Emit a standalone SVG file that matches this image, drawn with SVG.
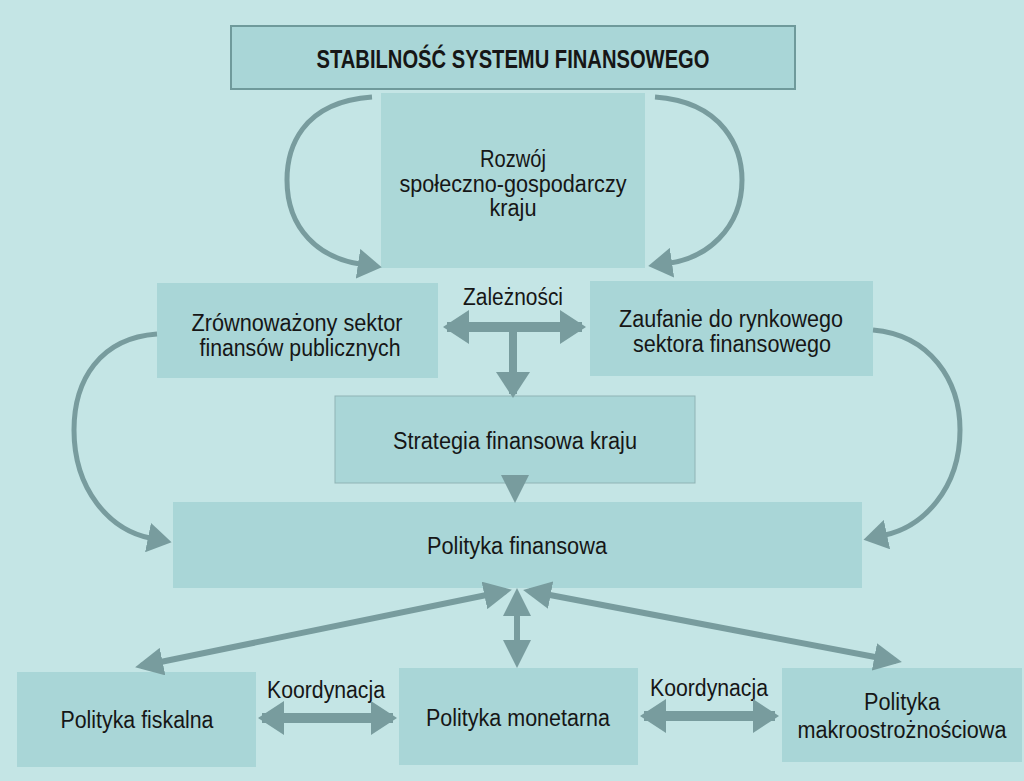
<svg xmlns="http://www.w3.org/2000/svg" width="1024" height="781" viewBox="0 0 1024 781">
<style>
.bg{fill:#c4e5e5}
.box{fill:#a9d6d7}
.bord{fill:#a9d6d7;stroke:#6f9a9b;stroke-width:2}
text{font-family:"Liberation Sans Narrow","Liberation Sans",Arial,sans-serif;font-size:23px;fill:#161616;text-anchor:middle}
.title{font-size:26px;font-weight:bold}
.c{fill:none;stroke:#789c9e;stroke-width:5}
.s{fill:none;stroke:#789c9e;stroke-width:6}
.t{fill:none;stroke:#789c9e;stroke-width:10}
</style>
<defs>
<marker id="ah" markerUnits="userSpaceOnUse" markerWidth="28" markerHeight="28" viewBox="0 0 28 28" refX="22" refY="14" orient="auto-start-reverse"><path d="M0,0 L28,14 L0,28 z" fill="#789c9e"/></marker>
<marker id="ahc" markerUnits="userSpaceOnUse" markerWidth="24" markerHeight="30" viewBox="0 0 24 30" refX="2" refY="15" orient="auto"><path d="M0,0 L24,15 L0,30 z" fill="#789c9e"/></marker>
<marker id="ahb" markerUnits="userSpaceOnUse" markerWidth="26" markerHeight="34" viewBox="0 0 26 34" refX="22" refY="17" orient="auto-start-reverse"><path d="M0,0 L26,17 L0,34 z" fill="#789c9e"/></marker>
</defs>
<rect class="bg" x="0" y="0" width="1024" height="781"/>

<g id="title"><rect class="bord" x="231" y="26" width="564" height="63"/><text class="title" x="513" y="68" textLength="393" lengthAdjust="spacingAndGlyphs">STABILNOŚĆ SYSTEMU FINANSOWEGO</text></g>
<g id="rozwoj"><rect class="box" x="381" y="93" width="264" height="175" style="fill:#acd8d8"/><text x="513" y="167" textLength="66" lengthAdjust="spacingAndGlyphs">Rozwój</text><text x="513" y="192" textLength="227" lengthAdjust="spacingAndGlyphs">społeczno-gospodarczy</text><text x="513" y="216" textLength="47" lengthAdjust="spacingAndGlyphs">kraju</text></g>
<g id="zrownowazony"><rect class="box" x="157" y="283" width="281" height="95"/><text x="297" y="331" textLength="211" lengthAdjust="spacingAndGlyphs">Zrównoważony sektor</text><text x="300" y="356" textLength="201" lengthAdjust="spacingAndGlyphs">finansów publicznych</text></g>
<g id="zaufanie"><rect class="box" x="590" y="281" width="283" height="95"/><text x="731" y="327" textLength="224" lengthAdjust="spacingAndGlyphs">Zaufanie do rynkowego</text><text x="732" y="352" textLength="198" lengthAdjust="spacingAndGlyphs">sektora finansowego</text></g>
<g id="strategia"><rect class="box" x="335" y="396" width="360" height="87" style="stroke:#8fb4b5;stroke-width:1"/><text x="515" y="449" textLength="244" lengthAdjust="spacingAndGlyphs">Strategia finansowa kraju</text></g>
<g id="polityka-finansowa"><rect class="box" x="173" y="502" width="689" height="86"/><text x="517" y="554" textLength="180" lengthAdjust="spacingAndGlyphs">Polityka finansowa</text></g>
<g id="fiskalna"><rect class="box" x="17" y="672" width="239" height="95"/><text x="137" y="728" textLength="153" lengthAdjust="spacingAndGlyphs">Polityka fiskalna</text></g>
<g id="monetarna"><rect class="box" x="399" y="668" width="239" height="97"/><text x="518" y="726" textLength="184" lengthAdjust="spacingAndGlyphs">Polityka monetarna</text></g>
<g id="makro"><rect class="box" x="782" y="668" width="240" height="94"/><text x="902" y="710" textLength="76" lengthAdjust="spacingAndGlyphs">Polityka</text><text x="902" y="738" textLength="209" lengthAdjust="spacingAndGlyphs">makroostrożnościowa</text></g>

<g id="connectors">
<path class="c" marker-end="url(#ahc)" d="M372,97 C300,102 287,150 287,180 C287,230 320,258 360,264"/>
<path class="c" marker-end="url(#ahc)" d="M655,97 C725,102 742,150 742,180 C742,230 705,258 670,263"/>
<path class="c" marker-end="url(#ahc)" d="M157,334 C100,338 74,380 74,430 C74,490 110,530 150,538"/>
<path class="c" marker-end="url(#ahc)" d="M873,330 C930,335 960,380 960,430 C960,490 922,527 885,535"/>
<text x="513" y="305" textLength="100" lengthAdjust="spacingAndGlyphs">Zależności</text>
<path class="t" marker-start="url(#ahb)" marker-end="url(#ahb)" d="M447,327 L582,327"/>
<path style="fill:none;stroke:#789c9e;stroke-width:8" marker-end="url(#ahb)" d="M513,327 L513,394"/>
<path class="s" marker-end="url(#ah)" d="M515,483 L515,497"/>
<path class="s" marker-start="url(#ah)" marker-end="url(#ah)" d="M506,591 L141,666"/>
<path class="s" marker-start="url(#ah)" marker-end="url(#ah)" d="M517,594 L517,662"/>
<path class="s" marker-start="url(#ah)" marker-end="url(#ah)" d="M529,591 L896,661"/>
<text x="326" y="698" textLength="118" lengthAdjust="spacingAndGlyphs">Koordynacja</text>
<path class="t" marker-start="url(#ahb)" marker-end="url(#ahb)" d="M262,718 L393,718"/>
<text x="709" y="696" textLength="118" lengthAdjust="spacingAndGlyphs">Koordynacja</text>
<path class="t" marker-start="url(#ahb)" marker-end="url(#ahb)" d="M644,716 L775,716"/>
</g>
</svg>
